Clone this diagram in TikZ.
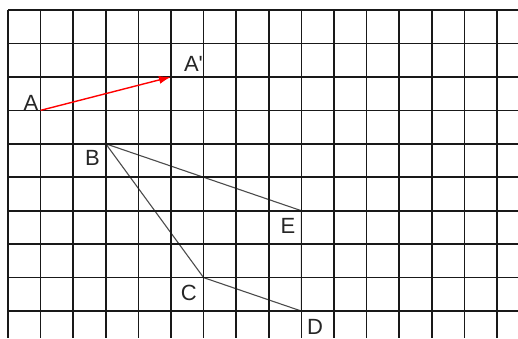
\documentclass[tikz,border=0pt]{standalone}
\usepackage{fontspec}
\setmainfont{Liberation Sans}
\usepackage{tikz}
\usetikzlibrary{arrows.meta, positioning, calc}

\begin{document}
\begin{tikzpicture}[x=32.6pt, y=-33.45pt, >=Latex,
    gridline/.style={black!90, line width=1.7pt},
    figline/.style={black!70, line width=1.1pt},
    shiftvec/.style={red, line width=1.4pt, -{Latex[length=12pt, width=8pt]}},
    lbl/.style={font=\fontsize{22}{22}\selectfont, text=black!85, inner sep=0pt}]
  \useasboundingbox[fill=white] (-0.245,-0.299) rectangle (15.644,9.806);

  % Points
  \coordinate (A) at (1,3);
  \coordinate (Ap) at (5,2);
  \coordinate (B) at (3,4);
  \coordinate (E) at (9,6);
  \coordinate (C) at (6,8);
  \coordinate (D) at (9,9);

  % Figure (under the grid)
  \draw[figline] (B) -- (E) -- (D) -- (C) -- cycle;

  % Grid
  \foreach \i in {0,...,15}
    \draw[gridline] (\i,0) -- (\i,9.806);
  \foreach \j in {0,...,9}
    \draw[gridline] (0,\j) -- (15.644,\j);

  % Vector
  \draw[shiftvec] (A) -- (Ap);

  % Labels
  \node[lbl] (lA) at (0.706,2.765) {A};
  \node[lbl] (lAp) at (5.69,1.614) {A\textquotesingle};
  \node[lbl] (lB) at (2.59,4.41) {B};
  \node[lbl] (lE) at (8.59,6.46) {E};
  \node[lbl] (lC) at (5.55,8.46) {C};
  \node[lbl] (lD) at (9.42,9.48) {D};
\end{tikzpicture}
\end{document}
